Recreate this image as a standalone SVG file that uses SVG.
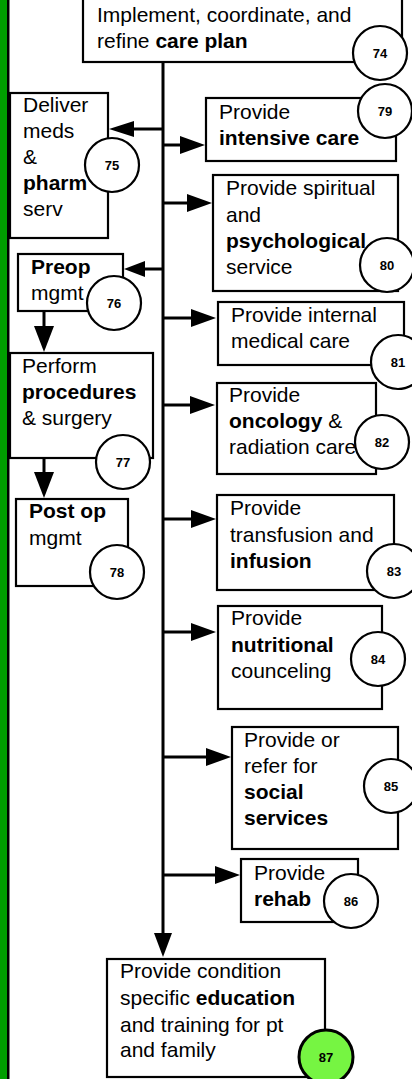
<svg xmlns="http://www.w3.org/2000/svg" width="412" height="1079" viewBox="0 0 412 1079">
<style>
.box{fill:#fff;stroke:#000;stroke-width:2.2}
.num{fill:#fff;stroke:#000;stroke-width:2.2}
.t{font-family:"Liberation Sans",Arial,Helvetica,sans-serif;font-size:21px;fill:#000}
.b{font-weight:bold}
.n{font-family:"Liberation Sans",Arial,Helvetica,sans-serif;font-size:13px;font-weight:bold;fill:#000;text-anchor:middle}
.ln{stroke:#000;stroke-width:3;fill:none}
.ah{fill:#000;stroke:none}
</style>
<rect x="0" y="0" width="412" height="1079" fill="#fff"/>
<rect x="0" y="0" width="7" height="1079" fill="#009e00"/>
<rect x="7" y="0" width="2.5" height="1079" fill="#000"/>

<g id="connectors">
<line class="ln" x1="163" y1="62" x2="163" y2="934"/>
<polygon class="ah" points="163,957 154,933 172,933"/>
<line class="ln" x1="163" y1="129" x2="133" y2="129"/>
<polygon class="ah" points="109,129 134,121 134,137"/>
<line class="ln" x1="163" y1="269" x2="144" y2="269"/>
<polygon class="ah" points="124,269 145,261 145,277"/>
<line class="ln" x1="163" y1="145" x2="182" y2="145"/>
<polygon class="ah" points="205,145 180,136 180,154"/>
<line class="ln" x1="163" y1="203" x2="189" y2="203"/>
<polygon class="ah" points="212,203 187,194 187,212"/>
<line class="ln" x1="163" y1="318" x2="193" y2="318"/>
<polygon class="ah" points="216,318 191,309 191,327"/>
<line class="ln" x1="163" y1="405" x2="192" y2="405"/>
<polygon class="ah" points="215,405 190,396 190,414"/>
<line class="ln" x1="163" y1="519" x2="193" y2="519"/>
<polygon class="ah" points="216,519 191,510 191,528"/>
<line class="ln" x1="163" y1="632" x2="193" y2="632"/>
<polygon class="ah" points="216,632 191,623 191,641"/>
<line class="ln" x1="163" y1="757" x2="208" y2="757"/>
<polygon class="ah" points="231,757 206,748 206,766"/>
<line class="ln" x1="163" y1="875" x2="217" y2="875"/>
<polygon class="ah" points="240,875 215,866 215,884"/>
<line class="ln" x1="44" y1="311" x2="44" y2="328"/>
<polygon class="ah" points="44,352 34,326 54,326"/>
<line class="ln" x1="44" y1="458" x2="44" y2="473"/>
<polygon class="ah" points="44,498 34,472 54,472"/>
</g>

<g id="n74">
<rect class="box" x="83" y="-2" width="319" height="64"/>
<text class="t" x="97" y="22">Implement, coordinate, and</text>
<text class="t" x="97" y="48">refine <tspan class="b">care plan</tspan></text>
<circle class="num" cx="380" cy="53" r="27"/>
<text class="n" x="380" y="58">74</text>
</g>

<g id="n75">
<rect class="box" x="10" y="93" width="98" height="145"/>
<text class="t" x="23" y="112">Deliver</text>
<text class="t" x="23" y="138">meds</text>
<text class="t" x="23" y="164">&amp;</text>
<text class="t b" x="23" y="190">pharm</text>
<text class="t" x="23" y="216">serv</text>
<circle class="num" cx="112" cy="165" r="27"/>
<text class="n" x="112" y="170">75</text>
</g>

<g id="n79">
<rect class="box" x="206" y="98" width="190" height="63"/>
<text class="t" x="219" y="119">Provide</text>
<text class="t b" x="219" y="145">intensive care</text>
<circle class="num" cx="385" cy="111" r="27"/>
<text class="n" x="385" y="116">79</text>
</g>

<g id="n80">
<rect class="box" x="213" y="175" width="185" height="116"/>
<text class="t" x="226" y="195">Provide spiritual</text>
<text class="t" x="226" y="222">and</text>
<text class="t b" x="226" y="248">psychological</text>
<text class="t" x="226" y="274">service</text>
<circle class="num" cx="387" cy="265" r="27"/>
<text class="n" x="387" y="270">80</text>
</g>

<g id="n76">
<rect class="box" x="18" y="254" width="105" height="57"/>
<text class="t b" x="31" y="274">Preop</text>
<text class="t" x="31" y="300">mgmt</text>
<circle class="num" cx="114" cy="303" r="27"/>
<text class="n" x="114" y="308">76</text>
</g>

<g id="n81">
<rect class="box" x="218" y="302" width="186" height="63"/>
<text class="t" x="231" y="322">Provide internal</text>
<text class="t" x="231" y="348">medical care</text>
<circle class="num" cx="398" cy="362" r="27"/>
<text class="n" x="398" y="367">81</text>
</g>

<g id="n77">
<rect class="box" x="10" y="353" width="143" height="105"/>
<text class="t" x="22" y="373">Perform</text>
<text class="t b" x="22" y="399">procedures</text>
<text class="t" x="22" y="425">&amp; surgery</text>
<circle class="num" cx="123" cy="462" r="27"/>
<text class="n" x="123" y="467">77</text>
</g>

<g id="n82">
<rect class="box" x="217" y="383" width="159" height="91"/>
<text class="t" x="229" y="402">Provide</text>
<text class="t" x="229" y="428"><tspan class="b">oncology</tspan> &amp;</text>
<text class="t" x="229" y="454">radiation care</text>
<circle class="num" cx="382" cy="442" r="27"/>
<text class="n" x="382" y="447">82</text>
</g>

<g id="n78">
<rect class="box" x="16" y="499" width="112" height="87"/>
<text class="t b" x="29" y="518">Post op</text>
<text class="t" x="29" y="545">mgmt</text>
<circle class="num" cx="117" cy="572" r="27"/>
<text class="n" x="117" y="577">78</text>
</g>

<g id="n83">
<rect class="box" x="217" y="495" width="177" height="95"/>
<text class="t" x="230" y="515">Provide</text>
<text class="t" x="230" y="542">transfusion and</text>
<text class="t b" x="230" y="568">infusion</text>
<circle class="num" cx="394" cy="571" r="27"/>
<text class="n" x="394" y="576">83</text>
</g>

<g id="n84">
<rect class="box" x="218" y="606" width="164" height="103"/>
<text class="t" x="231" y="625">Provide</text>
<text class="t b" x="231" y="652">nutritional</text>
<text class="t" x="231" y="678">counceling</text>
<circle class="num" cx="378" cy="659" r="27"/>
<text class="n" x="378" y="664">84</text>
</g>

<g id="n85">
<rect class="box" x="232" y="727" width="166" height="122"/>
<text class="t" x="244" y="747">Provide or</text>
<text class="t" x="244" y="773">refer for</text>
<text class="t b" x="244" y="799">social</text>
<text class="t b" x="244" y="825">services</text>
<circle class="num" cx="391" cy="786" r="27"/>
<text class="n" x="391" y="791">85</text>
</g>

<g id="n86">
<rect class="box" x="241" y="859" width="117" height="63"/>
<text class="t" x="254" y="880">Provide</text>
<text class="t b" x="254" y="906">rehab</text>
<circle class="num" cx="351" cy="901" r="27"/>
<text class="n" x="351" y="906">86</text>
</g>

<g id="n87">
<rect class="box" x="107" y="959" width="218" height="118"/>
<text class="t" x="120" y="978">Provide condition</text>
<text class="t" x="120" y="1005">specific <tspan class="b">education</tspan></text>
<text class="t" x="120" y="1032">and training for pt</text>
<text class="t" x="120" y="1057">and family</text>
<circle cx="326" cy="1057" r="27" fill="#76f542" stroke="#000" stroke-width="3"/>
<text class="n" x="326" y="1062">87</text>
</g>
</svg>
